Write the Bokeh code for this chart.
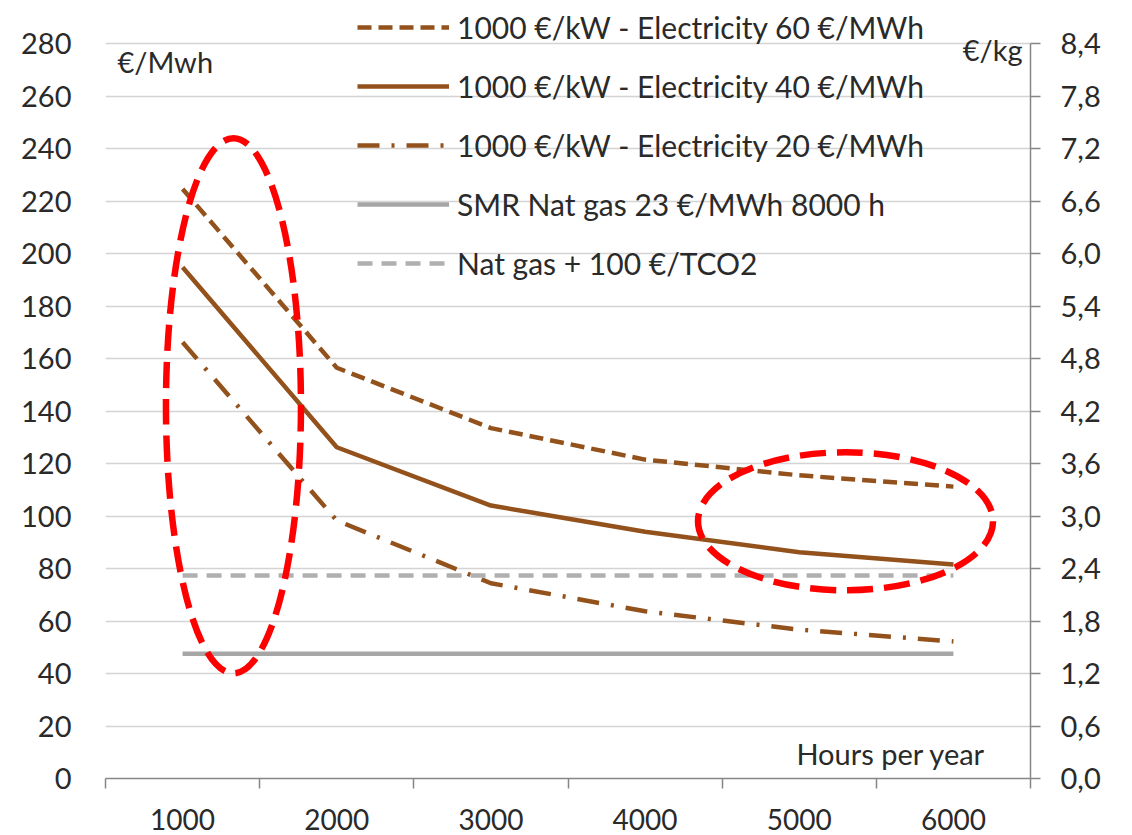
from bokeh.plotting import figure
from bokeh.models import (Range1d, LinearAxis, FixedTicker, CustomJSTickFormatter,
                          Legend, LegendItem, Label)
from bokeh.embed import file_html
from bokeh.resources import INLINE

# ---- data ----
hours = ["1000", "2000", "3000", "4000", "5000", "6000"]
x_pos = [1, 2, 3, 4, 5, 6]
category_edges = [0.5, 1.5, 2.5, 3.5, 4.5, 5.5, 6.5]
elec_60 = [224.6, 156.5, 133.5, 121.5, 115.5, 111.2]
elec_40 = [194.8, 126.2, 104.0, 94.0, 86.2, 81.5]
elec_20 = [166.2, 98.3, 74.4, 63.7, 56.7, 52.2]
smr_gas = [47.5, 47.5, 47.5, 47.5, 47.5, 47.5]
gas_co2 = [77.3, 77.3, 77.3, 77.3, 77.3, 77.3]
left_ticks = [0, 20, 40, 60, 80, 100, 120, 140, 160, 180, 200, 220, 240, 260, 280]
right_ticks = [0.0, 0.6, 1.2, 1.8, 2.4, 3.0, 3.6, 4.2, 4.8, 5.4, 6.0, 6.6, 7.2, 7.8, 8.4]
series_labels = ["1000 €/kW - Electricity 60 €/MWh",
                 "1000 €/kW - Electricity 40 €/MWh",
                 "1000 €/kW - Electricity 20 €/MWh",
                 "SMR Nat gas 23 €/MWh 8000 h",
                 "Nat gas + 100 €/TCO2"]
# axis extents (left €/MWh axis, right €/kg axis); headroom above 280 holds the legend
Y_MAX, Y_TOP = 280, 294.5
KG_MAX, KG_TOP = 8.4, 8.835
# highlight ellipses (centre in data units, size in screen pixels)
hl_x = [1.33, 5.30]
hl_y = [142, 98]
hl_w = [135, 295]
hl_h = [535, 138]

FONT = "Lato"
TXT = "#2a2a2a"
BROWN = "#93511c"
GRAY = "#a6a6a6"
GRAY2 = "#b0b0b0"

p = figure(width=1132, height=835, x_range=Range1d(0.5, 6.5), y_range=Range1d(0, Y_TOP),
           output_backend="svg", toolbar_location=None,
           min_border_left=105, min_border_right=102, min_border_top=5, min_border_bottom=57)
p.outline_line_color = None
p.background_fill_color = "white"
p.border_fill_color = "white"

# y axis (left)
p.yaxis.ticker = FixedTicker(ticks=left_ticks)
p.yaxis.axis_line_color = None
p.yaxis.major_tick_line_color = None
p.yaxis.minor_tick_line_color = None
p.yaxis.major_label_standoff = 28
p.yaxis.major_label_text_font = FONT
p.yaxis.major_label_text_font_size = "29px"
p.yaxis.major_label_text_color = TXT
p.ygrid.ticker = FixedTicker(ticks=left_ticks)
p.ygrid.grid_line_color = "#d4d4d4"
p.ygrid.grid_line_width = 1.5
p.xgrid.grid_line_color = None

# x axis
p.xaxis.ticker = FixedTicker(ticks=x_pos, minor_ticks=category_edges)
p.xaxis.formatter = CustomJSTickFormatter(args=dict(labels=hours),
                                          code="return labels[Math.round(tick) - 1] ?? '';")
p.xaxis.axis_line_color = "#868686"
p.xaxis.axis_line_width = 1.5
p.xaxis.major_tick_line_color = None
p.xaxis.major_tick_out = 0
p.xaxis.major_tick_in = 0
p.xaxis.minor_tick_line_color = "#868686"
p.xaxis.minor_tick_line_width = 1.5
p.xaxis.minor_tick_out = 10
p.xaxis.minor_tick_in = 0
p.xaxis.major_label_standoff = 20
p.xaxis.major_label_text_font = FONT
p.xaxis.major_label_text_font_size = "28px"
p.xaxis.major_label_text_color = TXT

# right axis
p.extra_y_ranges = {"kg": Range1d(0, KG_TOP)}
ax_r = LinearAxis(y_range_name="kg", ticker=FixedTicker(ticks=right_ticks), bounds=(0, KG_MAX),
                  formatter=CustomJSTickFormatter(code="return tick.toFixed(1).replace('.', ',');"))
ax_r.axis_line_color = "#868686"
ax_r.axis_line_width = 1.5
ax_r.major_tick_line_color = "#868686"
ax_r.major_tick_line_width = 1.5
ax_r.major_tick_out = 10
ax_r.major_tick_in = 0
ax_r.minor_tick_line_color = None
ax_r.major_label_standoff = 20
ax_r.major_label_text_font = FONT
ax_r.major_label_text_font_size = "29px"
ax_r.major_label_text_color = TXT
p.add_layout(ax_r, "right")

# series
r60 = p.line(x_pos, elec_60, line_color=BROWN, line_width=4.5, line_dash="14 7")
r40 = p.line(x_pos, elec_40, line_color=BROWN, line_width=4.5)
r20 = p.line(x_pos, elec_20, line_color=BROWN, line_width=4.5, line_dash="22 12 3 12")
rsmr = p.line(x_pos, smr_gas, line_color=GRAY, line_width=4.5)
rco2 = p.line(x_pos, gas_co2, line_color=GRAY2, line_width=4.5, line_dash="15 9")

legend = Legend(items=[LegendItem(label=series_labels[0], renderers=[r60]),
                       LegendItem(label=series_labels[1], renderers=[r40]),
                       LegendItem(label=series_labels[2], renderers=[r20]),
                       LegendItem(label=series_labels[3], renderers=[rsmr]),
                       LegendItem(label=series_labels[4], renderers=[rco2])],
                location=(252, 497), orientation="vertical",
                glyph_width=92, glyph_height=30, label_height=30, label_standoff=8,
                spacing=23, padding=0, margin=0,
                border_line_color=None, background_fill_alpha=0,
                label_text_font=FONT, label_text_font_size="30px", label_text_color=TXT)
p.add_layout(legend, "center")

# highlight ellipses
p.ellipse(x=hl_x, y=hl_y, width=hl_w, height=hl_h, width_units="screen", height_units="screen",
          fill_color=None, line_color="#ff0000", line_width=6.5, line_dash="26 11")

# unit labels
p.add_layout(Label(x=0.5, y=Y_MAX, x_offset=12, y_offset=0, text="€/Mwh", text_baseline="top",
                   text_font=FONT, text_font_size="29px", text_color=TXT))
p.add_layout(Label(x=6.5, y=Y_MAX, x_offset=-8, y_offset=12, text="€/kg", text_baseline="top",
                   text_align="right", text_font=FONT, text_font_size="29px", text_color=TXT))
p.add_layout(Label(x=6.5, y=0, x_offset=-45, y_offset=25, text="Hours per year",
                   text_baseline="alphabetic", text_align="right",
                   text_font=FONT, text_font_size="29px", text_color=TXT))

open("out.html", "w").write(file_html(p, INLINE))
